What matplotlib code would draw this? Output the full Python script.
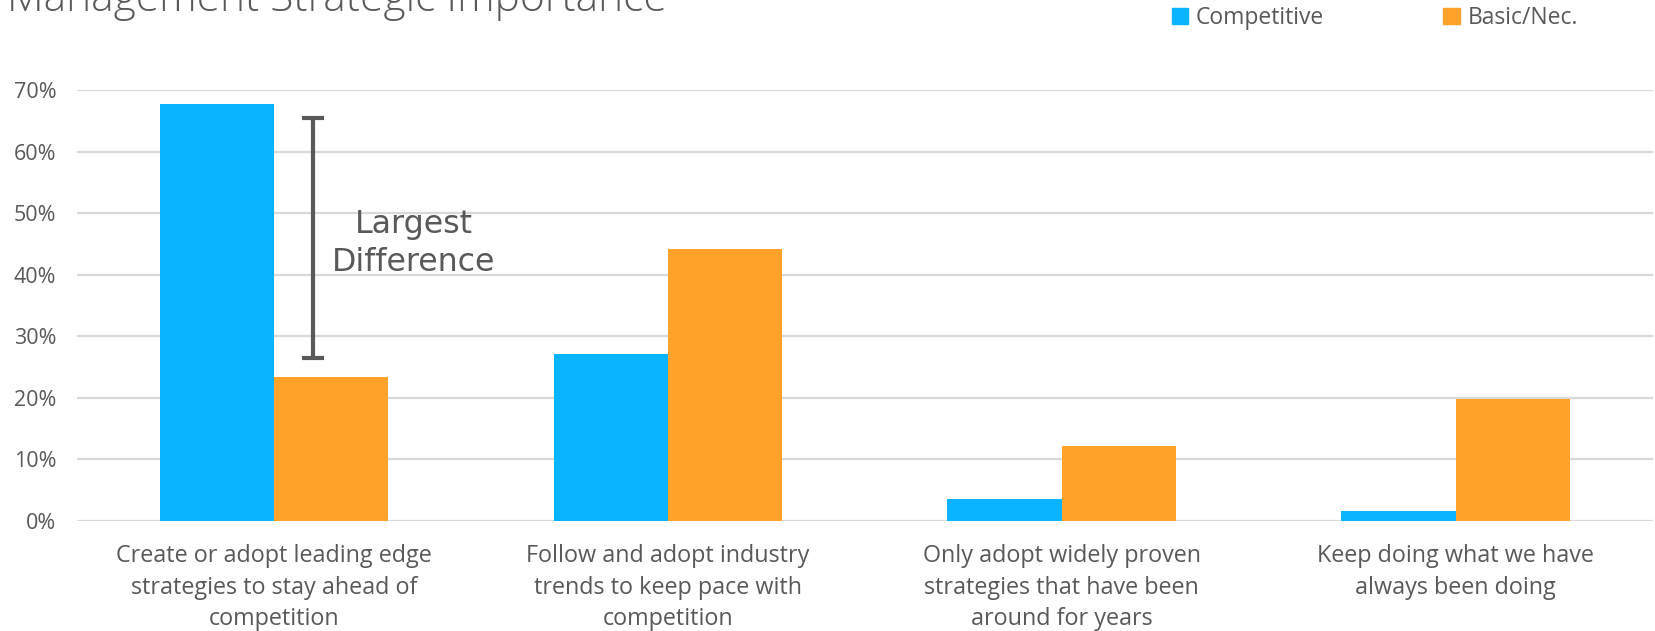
import numpy as np
import matplotlib.pyplot as plt
from matplotlib.patches import Patch

categories = [
    "Create or adopt leading edge\nstrategies to stay ahead of\ncompetition",
    "Follow and adopt industry\ntrends to keep pace with\ncompetition",
    "Only adopt widely proven\nstrategies that have been\naround for years",
    "Keep doing what we have\nalways been doing",
]
competitive = [0.677, 0.271, 0.035, 0.016]
basic_nec = [0.234, 0.442, 0.122, 0.197]
diff_low, diff_high = 0.265, 0.655
yticks = [0, 0.1, 0.2, 0.3, 0.4, 0.5, 0.6, 0.7]

BLUE = "#0AB4FE"
ORANGE = "#FEA22C"
GREY = "#595959"
GRID = "#D9D9D9"
W, H = 1655, 631

plt.rcParams['font.family'] = ['Open Sans', 'DejaVu Sans']

fig = plt.figure(figsize=(W / 100, H / 100), dpi=100)
ax = fig.add_axes([77 / W, 1 - 520.7 / H, (1652.5 - 77) / W, (520.7 - 90) / H])

x = np.arange(len(categories))
bw = 0.29
ax.bar(x - bw / 2, competitive, bw, color=BLUE, zorder=3, label="Competitive")
ax.bar(x + bw / 2, basic_nec, bw, color=ORANGE, zorder=3, label="Basic/Nec.")

ax.set_xlim(-0.5, 3.5)
ax.set_ylim(0, 0.7)
ax.set_yticks(yticks)
ax.set_yticklabels([f"{int(round(t * 100))}%" for t in yticks])
ax.yaxis.grid(True, color=GRID, linewidth=1.6, zorder=0)
for s in ax.spines.values():
    s.set_visible(False)
ax.tick_params(axis='y', length=0, pad=15, labelsize=15.5, labelcolor=GREY)
ax.set_xticks(x)
ax.set_xticklabels(categories, linespacing=1.42)
ax.tick_params(axis='x', length=0, pad=17, labelsize=16.8, labelcolor=GREY)

# bracket marking the gap between the two series
ax.errorbar(0.1, (diff_low + diff_high) / 2, yerr=(diff_high - diff_low) / 2,
            fmt='none', ecolor=GREY, elinewidth=3, capsize=8, capthick=3, zorder=4)
ax.text(0.355, 0.45, "Largest\nDifference", ha='center', va='center',
        fontsize=22.8, color=GREY, family='DejaVu Sans', linespacing=1.3)

fig.text(7 / W, 1 - 11 / H, "Management Strategic Importance", fontsize=30.6,
         color=GREY, ha='left', va='baseline', fontweight='light')

handles = [Patch(color=BLUE), Patch(color=ORANGE)]
fig.legend(handles, ["Competitive", "Basic/Nec."], loc='center left',
           bbox_to_anchor=(1172 / W, 1 - 18 / H), ncol=2, frameon=False,
           fontsize=16.5, labelcolor=GREY, handlelength=0.7, handleheight=0.7,
           handletextpad=0.35, columnspacing=5.2, borderpad=0, borderaxespad=0)

fig.savefig("out.png", dpi=100)
